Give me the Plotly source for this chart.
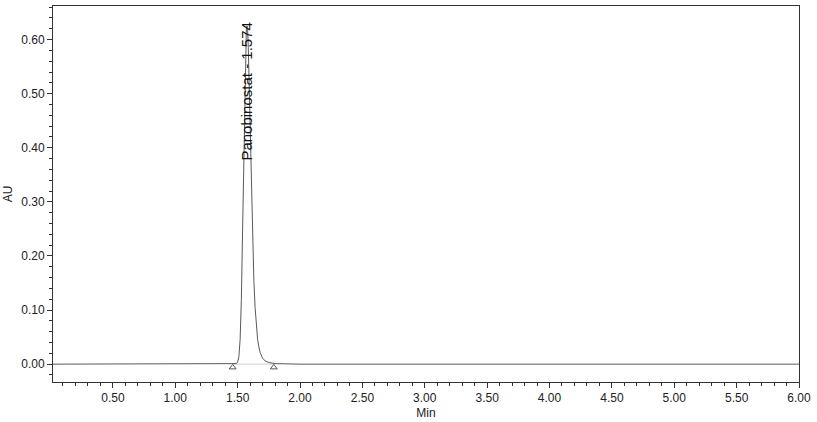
import plotly.graph_objects as go

# chromatogram trace (time in min, absorbance in AU)
time_min = [0.02, 0.50, 1.00, 1.40, 1.47, 1.49, 1.50, 1.51, 1.52, 1.53, 1.54,
            1.55, 1.56, 1.565, 1.57, 1.575, 1.58, 1.585, 1.59, 1.60, 1.61,
            1.62, 1.63, 1.64, 1.65, 1.66, 1.67, 1.68, 1.70, 1.72, 1.75,
            1.80, 2.00, 2.30, 2.60, 3.00, 3.20, 3.40, 3.60, 4.00, 4.50,
            5.00, 5.50, 6.00]
absorbance = [0.000, 0.000, 0.000, 0.000, 0.000, 0.001, 0.004, 0.014, 0.045,
              0.120, 0.250, 0.400, 0.540, 0.595, 0.620, 0.625, 0.618, 0.590,
              0.545, 0.440, 0.320, 0.225, 0.155, 0.105, 0.070, 0.046, 0.032,
              0.022, 0.011, 0.006, 0.003, 0.001, 0.000, 0.000, 0.000, 0.000,
              0.001, 0.000, 0.000, 0.000, 0.000, 0.000, 0.000, 0.000]

# integration baseline start / end markers
base_t = [1.46, 1.79]
base_au = [0.0, 0.0]
marker_au = [-0.006, -0.006]

peak_name = "Panobinostat"
peak_rt = 1.574
label_au = 0.373

x_ticks = [0.5, 1.0, 1.5, 2.0, 2.5, 3.0, 3.5, 4.0, 4.5, 5.0, 5.5, 6.0]
y_ticks = [0.0, 0.1, 0.2, 0.3, 0.4, 0.5, 0.6]

axis_col = "#333333"
font = "Liberation Sans, Arial, sans-serif"

fig = go.Figure()

fig.add_trace(go.Scatter(
    x=base_t, y=base_au, mode="lines",
    line=dict(color="#d0d0d0", width=1), hoverinfo="skip", showlegend=False
))
fig.add_trace(go.Scatter(
    x=time_min, y=absorbance, mode="lines",
    line=dict(color="#5a5a5a", width=1), showlegend=False
))
fig.add_trace(go.Scatter(
    x=base_t, y=marker_au, mode="markers",
    marker=dict(symbol="triangle-up-open", size=6, color="#555555",
                line=dict(width=1)),
    hoverinfo="skip", showlegend=False
))

fig.add_annotation(
    x=peak_rt - 0.005, y=label_au, xref="x", yref="y",
    text=f"{peak_name} - {peak_rt:.3f}", textangle=-90, showarrow=False,
    xanchor="center", yanchor="bottom",
    font=dict(family=font, size=15, color="#111111")
)

fig.update_xaxes(
    range=[0.02, 6.0], tickvals=x_ticks, ticktext=[f"{v:.2f}" for v in x_ticks],
    ticks="outside", ticklen=5, tickcolor=axis_col, showgrid=False, zeroline=False,
    showline=True, linecolor=axis_col, linewidth=1, mirror=True,
    minor=dict(dtick=0.1, tick0=0, ticks="outside", ticklen=3, tickcolor=axis_col),
    title=dict(text="Min", standoff=4, font=dict(family=font, size=12, color="#222222")),
    tickfont=dict(family=font, size=12, color="#222222"), automargin=False
)
fig.update_yaxes(
    range=[-0.033, 0.662], tickvals=y_ticks, ticktext=[f"{v:.2f}" for v in y_ticks],
    ticks="outside", ticklen=5, tickcolor=axis_col, showgrid=False, zeroline=False,
    showline=True, linecolor=axis_col, linewidth=1, mirror=True,
    minor=dict(dtick=0.02, tick0=0, ticks="outside", ticklen=3, tickcolor=axis_col),
    title=dict(text="AU", standoff=6, font=dict(family=font, size=12, color="#222222")),
    tickfont=dict(family=font, size=12, color="#222222"), automargin=False
)

fig.update_layout(
    width=817, height=422,
    margin=dict(l=53, r=18, t=6, b=40),
    plot_bgcolor="white", paper_bgcolor="white",
    font=dict(family=font)
)

# drop the page's default body margin so the figure sits at the window corner
fig.write_html("out.html", config={"displayModeBar": False},
               post_script="document.body.style.margin='0';")
